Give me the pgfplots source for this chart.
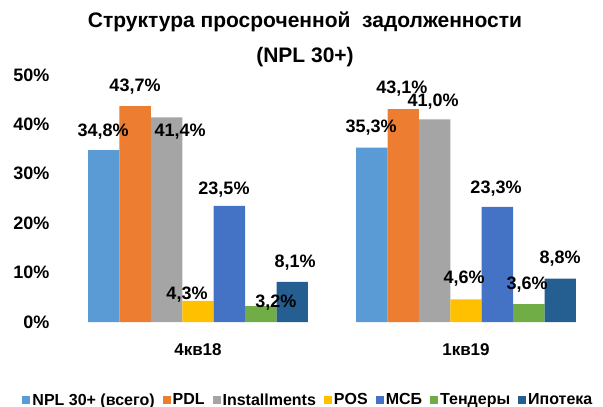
\documentclass[border=0pt]{standalone}
\usepackage{fontspec}
\setmainfont{Liberation Sans}
\usepackage{pgfplots}
\usepackage{pgfplotstable}
\pgfplotsset{compat=1.18}
\definecolor{cNPL}{HTML}{5B9BD5}
\definecolor{cPDL}{HTML}{ED7D31}
\definecolor{cINS}{HTML}{A5A5A5}
\definecolor{cPOS}{HTML}{FFC000}
\definecolor{cMSB}{HTML}{4472C4}
\definecolor{cTEN}{HTML}{70AD47}
\definecolor{cIPO}{HTML}{255E91}
\pgfplotstableread{
x y txt
-0.354 38.5 {34,8\%}
-0.235 47.6 {43,7\%}
-0.067 38.5 {41,4\%}
-0.041 5.47 {4,3\%}
0.097 26.9 {23,5\%}
0.291 3.85 {3,2\%}
0.362 12.1 {8,1\%}
0.646 39.3 {35,3\%}
0.761 47.2 {43,1\%}
0.877 44.7 {41,0\%}
0.993 8.7 {4,6\%}
1.112 27.1 {23,3\%}
1.228 7.5 {3,6\%}
1.351 12.75 {8,8\%}
}\labels
\begin{document}
\begin{tikzpicture}
\useasboundingbox (-64pt,-85pt) rectangle (539pt,322pt);
\begin{axis}[
  scale only axis, width=536pt, height=247pt,
  xmin=-0.5, xmax=1.5, ymin=0, ymax=50,
  ybar=0pt, bar width=31.4pt,
  axis line style={draw=none}, tick style={draw=none},
  xtick={0,1}, xticklabels={4кв18,1кв19},
  ytick={0,10,20,30,40,50},
  yticklabels={0\%,10\%,20\%,30\%,40\%,50\%},
  ticklabel style={font=\fontsize{18}{20}\selectfont\bfseries},
  yticklabel style={xshift=-11pt},
  xticklabel style={font=\fontsize{17}{20}\selectfont\bfseries, yshift=-14pt},
  clip=false,
  legend columns=7,
  legend style={at={(0.456,-0.316)}, anchor=center, draw=none, fill=none,
    font=\fontsize{16}{18}\selectfont\bfseries,
    /tikz/every even column/.append style={column sep=6pt}},
  legend image code/.code={\fill[#1] (0pt,-4pt) rectangle (8pt,4pt);},
]
\addplot[fill=cNPL, draw=none] coordinates {(0,34.8) (1,35.3)};
\addplot[fill=cPDL, draw=none] coordinates {(0,43.7) (1,43.1)};
\addplot[fill=cINS, draw=none] coordinates {(0,41.4) (1,41.0)};
\addplot[fill=cPOS, draw=none] coordinates {(0,4.3) (1,4.6)};
\addplot[fill=cMSB, draw=none] coordinates {(0,23.5) (1,23.3)};
\addplot[fill=cTEN, draw=none] coordinates {(0,3.2) (1,3.6)};
\addplot[fill=cIPO, draw=none] coordinates {(0,8.1) (1,8.8)};
\legend{NPL 30+ (всего),PDL,Installments,POS,МСБ,Тендеры,Ипотека}
\addplot[forget plot, bar shift=0pt, draw=none, fill=none, mark=none, nodes near coords, point meta=explicit symbolic,
  nodes near coords style={anchor=center, font=\fontsize{18}{20}\selectfont\bfseries, text=black}]
  table[x=x, y=y, meta=txt] {\labels};
\end{axis}
\node[font=\fontsize{21}{24}\selectfont\bfseries] at (241pt,300pt) {Структура просроченной\ \ задолженности};
\node[font=\fontsize{21}{24}\selectfont\bfseries] at (241pt,265pt) {(NPL 30+)};
\end{tikzpicture}
\end{document}
